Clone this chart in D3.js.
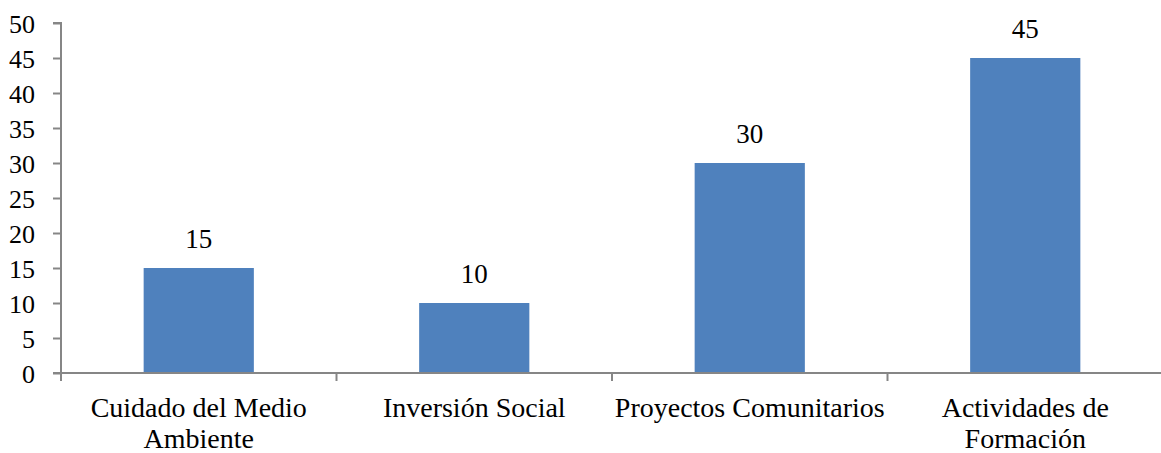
<!DOCTYPE html>
<html>
<head>
<meta charset="utf-8">
<script src="https://cdn.jsdelivr.net/npm/d3@7"></script>
<style>
  body { margin: 0; background: #fff; }
  svg { display: block; }
</style>
</head>
<body>
<div id="chart"></div>
<script>
// Chart data
const categories = ['Cuidado del Medio Ambiente', 'Inversión Social', 'Proyectos Comunitarios', 'Actividades de Formación'];
const categoryLines = [['Cuidado del Medio', 'Ambiente'], ['Inversión Social'], ['Proyectos Comunitarios'], ['Actividades de', 'Formación']];
const values = [15, 10, 30, 45];
const yTicks = [0, 5, 10, 15, 20, 25, 30, 35, 40, 45, 50];

const width = 1161, height = 453;
const margin = { top: 23, right: -2, bottom: 80, left: 61 };
const fontFamily = "'Liberation Serif', 'Times New Roman', Times, serif";

const svg = d3.select('#chart').append('svg')
    .attr('width', width)
    .attr('height', height)
    .style('font-family', fontFamily);

const x = d3.scaleBand()
    .domain(categories)
    .range([margin.left, width - margin.right])
    .paddingInner(0.6)
    .paddingOuter(0.3);

const y = d3.scaleLinear()
    .domain([0, 50])
    .range([height - margin.bottom, margin.top]);

const axisColor = '#868686';

// bars
svg.selectAll('.bar')
    .data(values)
    .enter()
    .append('rect')
    .attr('class', 'bar')
    .attr('x', (d, i) => x(categories[i]))
    .attr('y', d => y(d))
    .attr('width', x.bandwidth())
    .attr('height', d => y(0) - y(d))
    .attr('fill', '#4f81bd');

// value labels
svg.selectAll('.value-label')
    .data(values)
    .enter()
    .append('text')
    .attr('class', 'value-label')
    .attr('text-anchor', 'middle')
    .style('font-family', fontFamily)
    .style('font-size', '27px')
    .attr('x', (d, i) => x(categories[i]) + x.bandwidth() / 2)
    .attr('y', d => y(d) - 20)
    .text(d => d);

// y axis
const yAxis = svg.append('g')
    .attr('transform', `translate(${margin.left},0)`)
    .call(d3.axisLeft(y).tickValues(yTicks).tickSize(8).tickPadding(18));
yAxis.attr('font-family', null);
yAxis.selectAll('path, line').attr('stroke', axisColor).attr('stroke-width', 2);
yAxis.select('.domain').attr('d', `M-8,${y(50)}H0V${y(0)}`);
yAxis.selectAll('text')
    .style('font-family', fontFamily)
    .style('font-size', '26px')
    .attr('fill', '#000')
    .attr('dy', '0.35em');

// x axis (ticks at category boundaries)
const step = x.step();
const boundaries = d3.range(categories.length + 1).map(i => margin.left + i * step);
const xAxisG = svg.append('g');
xAxisG.append('line')
    .attr('x1', margin.left - 8)
    .attr('x2', width)
    .attr('y1', y(0))
    .attr('y2', y(0))
    .attr('stroke', axisColor)
    .attr('stroke-width', 2);
xAxisG.selectAll('.xtick')
    .data(boundaries)
    .enter()
    .append('line')
    .attr('x1', d => d)
    .attr('x2', d => d)
    .attr('y1', y(0))
    .attr('y2', y(0) + 8)
    .attr('stroke', axisColor)
    .attr('stroke-width', 2);

// category labels
const catLabels = svg.selectAll('.cat-label')
    .data(categoryLines)
    .enter()
    .append('text')
    .attr('class', 'cat-label')
    .attr('text-anchor', 'middle')
    .style('font-family', fontFamily)
    .style('font-size', '28px')
    .attr('x', (d, i) => x(categories[i]) + x.bandwidth() / 2)
    .attr('y', y(0) + 44);

catLabels.selectAll('tspan')
    .data(d => d)
    .enter()
    .append('tspan')
    .attr('x', function() { return d3.select(this.parentNode).attr('x'); })
    .attr('dy', (d, i) => i === 0 ? 0 : 31)
    .text(d => d);
</script>
</body>
</html>
